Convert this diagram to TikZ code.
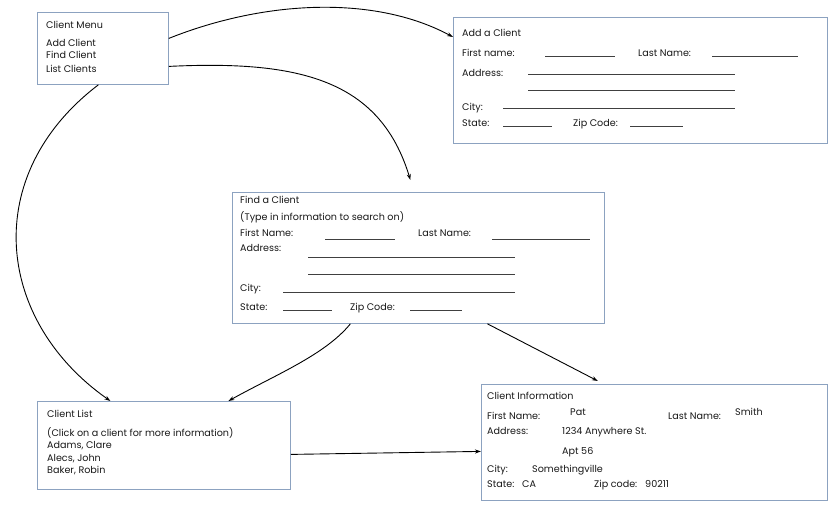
\documentclass[tikz,border=0pt]{standalone}
\usepackage{fontspec}
\setmainfont{Poppins}
\usetikzlibrary{arrows.meta}

\definecolor{boxblue}{RGB}{140,162,192}
\newcommand{\formfont}{\fontsize{9.6}{11}\selectfont}

\tikzset{
    formbox/.style={draw=boxblue, line width=0.8pt, fill=white, inner sep=0pt, anchor=north west},
    lbl/.style={anchor=base west, font=\formfont, text=black!90, inner sep=0pt},
    uline/.style={line width=0.5pt, black!75},
    flow/.style={-{Stealth[length=6pt,width=4pt]}, line width=0.9pt, black}
}

\begin{document}
\begin{tikzpicture}[x=1pt, y=-1pt]

    \fill[white] (0,0) rectangle (830,504);
    \useasboundingbox (0,0) rectangle (830,504);

    % Boxes
    \node[formbox, minimum width=131pt, minimum height=72pt] (menu) at (37,12) {};
    \node[formbox, minimum width=374pt, minimum height=126pt] (addbox) at (453,17) {};
    \node[formbox, minimum width=372pt, minimum height=131pt] (findbox) at (232,192) {};
    \node[formbox, minimum width=253pt, minimum height=88pt] (listbox) at (37,401) {};
    \node[formbox, minimum width=346pt, minimum height=116pt] (infobox) at (481,384) {};

    % Client Menu
    \node[lbl] (menutitle) at (46,28) {Client Menu};
    \node[lbl] (menuadd) at (46,46) {Add Client};
    \node[lbl] (menufind) at (46,58) {Find Client};
    \node[lbl] (menulist) at (46,72) {List Clients};

    % Add a Client
    \node[lbl] (addtitle) at (462,36) {Add a Client};
    \node[lbl] (addfirst) at (462,56) {First name:};
    \node[lbl] (addlast) at (638,56) {Last Name:};
    \node[lbl] (addaddr) at (462,76) {Address:};
    \node[lbl] (addcity) at (462,110) {City:};
    \node[lbl] (addstate) at (462,126) {State:};
    \node[lbl] (addzip) at (573,126) {Zip Code:};
    \draw[uline] (545,56) -- (615,56);
    \draw[uline] (712,56) -- (798,56);
    \draw[uline] (528,74) -- (735,74);
    \draw[uline] (528,90) -- (735,90);
    \draw[uline] (503,108) -- (735,108);
    \draw[uline] (503,126) -- (552,126);
    \draw[uline] (630,126) -- (683,126);

    % Find a Client
    \node[lbl] (findtitle) at (240,203) {Find a Client};
    \node[lbl] (findhint) at (240,220) {(Type in information to search on)};
    \node[lbl] (findfirst) at (240,236) {First Name:};
    \node[lbl] (findlast) at (418,236) {Last Name:};
    \node[lbl] (findaddr) at (240,251) {Address:};
    \node[lbl] (findcity) at (240,291) {City:};
    \node[lbl] (findstate) at (240,310) {State:};
    \node[lbl] (findzip) at (350,310) {Zip Code:};
    \draw[uline] (325,239) -- (395,239);
    \draw[uline] (492,239) -- (590,239);
    \draw[uline] (308,257) -- (515,257);
    \draw[uline] (308,274) -- (515,274);
    \draw[uline] (283,292) -- (515,292);
    \draw[uline] (283,310) -- (332,310);
    \draw[uline] (410,310) -- (462,310);

    % Client List
    \node[lbl] (listtitle) at (47,417) {Client List};
    \node[lbl] (listhint) at (47,436) {(Click on a client for more information)};
    \node[lbl] (listone) at (47,448) {Adams, Clare};
    \node[lbl] (listtwo) at (47,461) {Alecs, John};
    \node[lbl] (listthree) at (47,473) {Baker, Robin};

    % Client Information
    \node[lbl] (infotitle) at (487,399) {Client Information};
    \node[lbl] (infofirst) at (487,419) {First Name:};
    \node[lbl] (infopat) at (570,415) {Pat};
    \node[lbl] (infolast) at (668,419) {Last Name:};
    \node[lbl] (infosmith) at (735,415) {Smith};
    \node[lbl] (infoaddr) at (487,434) {Address:};
    \node[lbl] (infostreet) at (562,434) {1234 Anywhere St.};
    \node[lbl] (infoapt) at (562,454) {Apt 56};
    \node[lbl] (infocity) at (487,472) {City:};
    \node[lbl] (infotown) at (532,472) {Somethingville};
    \node[lbl] (infostate) at (487,487) {State:};
    \node[lbl] (infoca) at (522,487) {CA};
    \node[lbl] (infoziplbl) at (594,487) {Zip code:};
    \node[lbl] (infozip) at (645,487) {90211};

    % Connectors
    \draw[flow] ([yshift=10pt]menu.east) .. controls (265,0) and (375,-5) .. ([yshift=-20pt]addbox.north west);
    \draw[flow] ([yshift=-18pt]menu.east) .. controls (300,60) and (380,80) .. ([xshift=-8pt,yshift=12pt]findbox.north);
    \draw[flow] ([xshift=-4.5pt]menu.south) .. controls (-20,175) and (-5,320) .. ([xshift=-53.5pt]listbox.north);
    \draw[flow] ([xshift=-68pt]findbox.south) .. controls (325,355) and (275,375) .. ([xshift=64.5pt]listbox.north);
    \draw[flow] ([xshift=69pt]findbox.south) -- ([xshift=-56.5pt,yshift=3pt]infobox.north);
    \draw[flow] ([yshift=-9pt]listbox.east) -- ([yshift=-9pt]infobox.west);

\end{tikzpicture}
\end{document}
